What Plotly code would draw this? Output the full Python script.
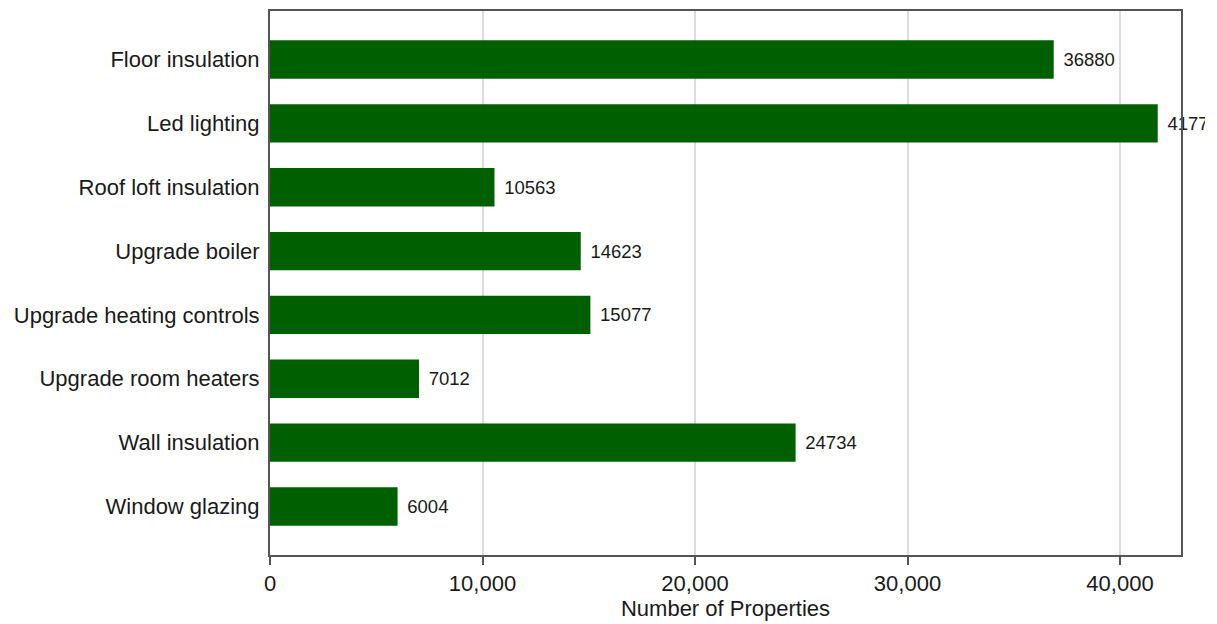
import plotly.graph_objects as go

# Retrofit measures and the number of properties recommended each one
measures = [
    "Floor insulation",
    "Led lighting",
    "Roof loft insulation",
    "Upgrade boiler",
    "Upgrade heating controls",
    "Upgrade room heaters",
    "Wall insulation",
    "Window glazing",
]
property_counts = [36880, 41775, 10563, 14623, 15077, 7012, 24734, 6004]
x_tick_values = [0, 10000, 20000, 30000, 40000]

FONT = "Liberation Sans, Arial, sans-serif"

fig = go.Figure(
    go.Bar(
        x=property_counts,
        y=measures,
        orientation="h",
        marker=dict(color="#006000", line=dict(width=0)),
        width=0.6,
        # non-breaking + hair space keep a small gap between bar end and label
        text=["\u00a0\u200a" + str(v) for v in property_counts],
        textposition="outside",
        textfont=dict(family=FONT, size=18.5, color="#1a1a1a"),
        cliponaxis=False,
        hoverinfo="x+y",
    )
)

fig.update_layout(
    width=1205,
    height=624,
    margin=dict(l=270, r=24, t=9, b=67),
    paper_bgcolor="white",
    plot_bgcolor="white",
    font=dict(family=FONT, size=22, color="#1a1a1a"),
    showlegend=False,
)

fig.update_xaxes(
    range=[0, 42870],
    tickvals=x_tick_values,
    tickformat=",",
    showgrid=True,
    gridcolor="#dcdcdc",
    gridwidth=1.5,
    zeroline=False,
    showline=True,
    linecolor="#555555",
    linewidth=2,
    mirror=True,
    ticks="outside",
    ticklen=8,
    tickwidth=2,
    tickcolor="#555555",
    tickfont=dict(family=FONT, size=22, color="#1a1a1a"),
    title=dict(text="Number of Properties", font=dict(family=FONT, size=22, color="#1a1a1a"), standoff=3),
)

fig.update_yaxes(
    categoryorder="array",
    categoryarray=measures,
    range=[7.76, -0.76],
    showgrid=False,
    zeroline=False,
    showline=True,
    linecolor="#555555",
    linewidth=2,
    mirror=True,
    ticks="outside",
    ticklen=4,
    tickcolor="rgba(0,0,0,0)",
    tickfont=dict(family=FONT, size=22, color="#1a1a1a"),
)

fig.write_html("out.html")
